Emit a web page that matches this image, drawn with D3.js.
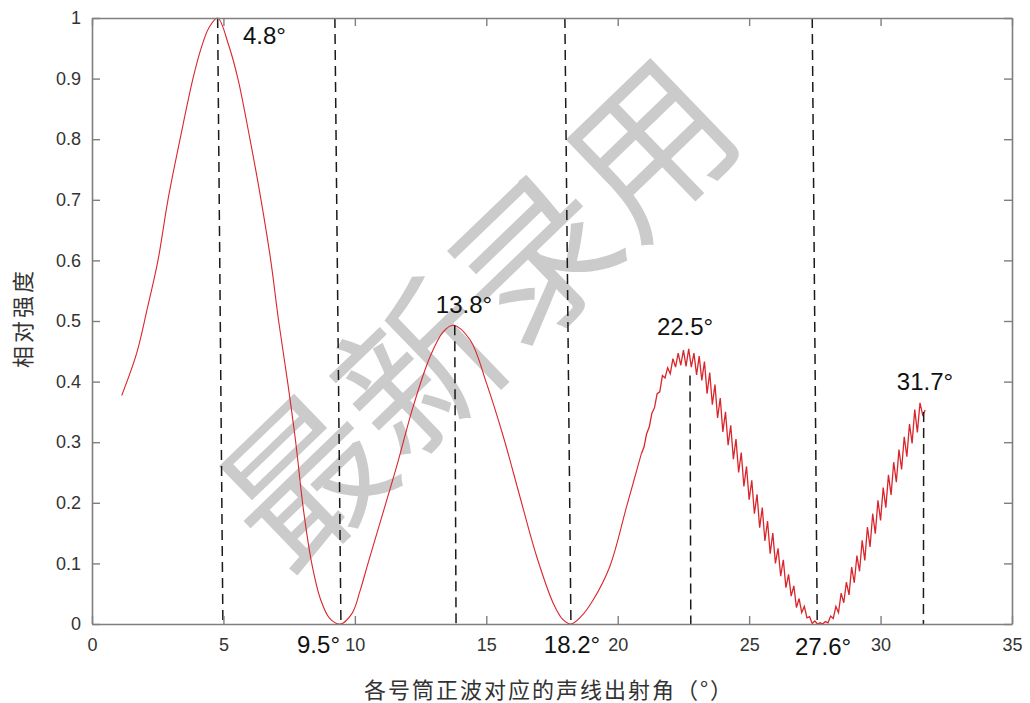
<!DOCTYPE html>
<html><head><meta charset="utf-8">
<script src="https://cdn.jsdelivr.net/npm/d3@7"></script>
<style>body{margin:0;background:#fff;} svg{display:block;}</style>
</head><body><svg id="c" width="1030" height="703"></svg>
<script>
// ---- data ----
const angleTicks = [0, 5, 10, 15, 20, 25, 30, 35];
const intensityTicks = [0, 0.1, 0.2, 0.3, 0.4, 0.5, 0.6, 0.7, 0.8, 0.9, 1];

const smoothAngle = [1.13, 1.70, 2.10, 2.51, 2.89, 3.35, 3.84, 4.15, 4.45, 4.78,
  5.20, 5.55, 6.01, 6.43, 6.80, 7.10, 7.44, 7.75, 8.04, 8.36, 8.70, 9.05, 9.45,
  9.90, 10.20, 10.50, 10.95, 11.59, 12.22, 12.86, 13.36, 13.74, 14.38, 15.01, 15.65, 16.28, 16.92, 17.55, 17.90, 18.22,
  18.60, 19.07, 19.70, 20.34, 20.90];
const smoothIntensity = [0.377, 0.447, 0.520, 0.600, 0.700, 0.800, 0.900, 0.950, 0.984, 1.000,
  0.955, 0.900, 0.800, 0.700, 0.600, 0.500, 0.400, 0.300, 0.190, 0.100, 0.040, 0.009, 0.000,
  0.018, 0.055, 0.100, 0.166, 0.260, 0.359, 0.441, 0.482, 0.493, 0.469, 0.397, 0.309, 0.210, 0.111, 0.034, 0.008, 0.000,
  0.012, 0.040, 0.095, 0.194, 0.281];

const rippleAngle = [20.9, 21.0, 21.1, 21.2, 21.3, 21.4, 21.5, 21.6, 21.7, 21.8,
  21.9, 22.0, 22.1, 22.2, 22.3, 22.4, 22.5, 22.6, 22.7, 22.8,
  22.9, 23.0, 23.1, 23.2, 23.3, 23.4, 23.5, 23.6, 23.7, 23.8,
  23.9, 24.0, 24.1, 24.2, 24.3, 24.4, 24.5, 24.6, 24.7, 24.8,
  24.9, 25.0, 25.1, 25.2, 25.3, 25.4, 25.5, 25.6, 25.7, 25.8,
  25.9, 26.0, 26.1, 26.2, 26.3, 26.4, 26.5, 26.6, 26.7, 26.8,
  26.9, 27.0, 27.1, 27.2, 27.3, 27.4, 27.5, 27.6, 27.7, 27.8,
  27.9, 28.0, 28.1, 28.2, 28.3, 28.4, 28.5, 28.6, 28.7, 28.8,
  28.9, 29.0, 29.1, 29.2, 29.3, 29.4, 29.5, 29.6, 29.7, 29.8,
  29.9, 30.0, 30.1, 30.2, 30.3, 30.4, 30.5, 30.6, 30.7, 30.8,
  30.9, 31.0, 31.1, 31.2, 31.3, 31.4, 31.5, 31.6, 31.7];
const rippleIntensity = [0.281, 0.292, 0.314, 0.325, 0.348, 0.357, 0.380, 0.383, 0.410, 0.406,
  0.423, 0.413, 0.438, 0.424, 0.447, 0.427, 0.452, 0.425, 0.454, 0.424,
  0.447, 0.411, 0.442, 0.402, 0.433, 0.380, 0.415, 0.362, 0.395, 0.340,
  0.373, 0.317, 0.350, 0.295, 0.328, 0.272, 0.305, 0.250, 0.283, 0.227,
  0.260, 0.205, 0.237, 0.182, 0.214, 0.159, 0.192, 0.137, 0.170, 0.116,
  0.150, 0.100, 0.125, 0.079, 0.106, 0.060, 0.082, 0.046, 0.063, 0.027,
  0.042, 0.019, 0.029, 0.010, 0.012, 0.001, 0.005, 0.000, 0.002, 0.000,
  0.004, 0.002, 0.013, 0.009, 0.029, 0.019, 0.051, 0.035, 0.069, 0.048,
  0.094, 0.068, 0.113, 0.087, 0.138, 0.105, 0.160, 0.127, 0.182, 0.149,
  0.204, 0.171, 0.225, 0.192, 0.246, 0.213, 0.267, 0.234, 0.288, 0.255,
  0.309, 0.276, 0.330, 0.298, 0.354, 0.316, 0.365, 0.345, 0.353];

const peakLabels = ["4.8°", "9.5°", "13.8°", "18.2°", "22.5°", "27.6°", "31.7°"];
const guideTopAngle = [4.78, 9.24, 13.80, 17.99, 22.75, 27.40, 31.64];
const guideTopIntensity = [1.0, 1.0, 0.493, 1.0, 0.41, 1.0, 0.35];
const guideBottomAngle = [4.98, 9.47, 13.85, 18.22, 22.78, 27.59, 31.63];
const labelAngle = [5.74, 7.80, 13.08, 17.19, 21.49, 26.74, 30.62];
const labelIntensity = [0.957, -0.048, 0.513, -0.048, 0.477, -0.051, 0.386];

const xTitle = "各号筒正波对应的声线出射角（°）";
const yTitle = "相对强度";
const watermark = "最新录用";

// ---- drawing ----
const svg = d3.select("#c");
const L = 92, R = 1012, T = 18, B = 624;
const x = d3.scaleLinear().domain([0, 35]).range([L, R]);
const y = d3.scaleLinear().domain([0, 1]).range([B, T]);

svg.append("rect").attr("width", 1030).attr("height", 703).attr("fill", "#fff");

// watermark
svg.append("text")
  .attr("transform", "translate(470,306) rotate(-44)")
  .attr("text-anchor", "middle")
  .attr("dominant-baseline", "central")
  .attr("font-family", "'Noto Sans CJK SC'")
  .attr("font-weight", 400)
  .attr("font-size", 160)
  .attr("fill", "#cbcbcb")
  .text(watermark);

const red = "#d9262c";
const smooth = smoothAngle.map((a, i) => [a, smoothIntensity[i]]);
const ripple = rippleAngle.map((a, i) => [a, rippleIntensity[i]]);

svg.append("path").datum(smooth)
  .attr("fill", "none").attr("stroke", red).attr("stroke-width", 1.1)
  .attr("d", d3.line().x(d => x(d[0])).y(d => y(Math.max(0, d[1]))).curve(d3.curveCatmullRom.alpha(0.5)));
svg.append("path").datum(ripple)
  .attr("fill", "none").attr("stroke", red).attr("stroke-width", 1.3)
  .attr("stroke-linejoin", "miter")
  .attr("d", d3.line().x(d => x(d[0])).y(d => y(d[1])));

// dashed guides
svg.append("g").selectAll("line").data(peakLabels).join("line")
  .attr("x1", (d, i) => x(guideTopAngle[i]))
  .attr("y1", (d, i) => y(guideTopIntensity[i]))
  .attr("x2", (d, i) => x(guideBottomAngle[i]))
  .attr("y2", y(0))
  .attr("stroke", "#1a1a1a").attr("stroke-width", 1.5)
  .attr("stroke-dasharray", "10,6");

// axes (box with inward ticks)
const axColor = "#7f7f7f";
function style(g, labels) {
  g.select(".domain").attr("stroke", axColor).attr("stroke-width", 1.6);
  g.selectAll(".tick line").attr("stroke", axColor).attr("stroke-width", 1.4);
  g.selectAll(".tick text").attr("fill", "#333").attr("font-size", 18)
    .attr("font-family", "'Liberation Sans', Arial, sans-serif");
  if (!labels) g.selectAll(".tick text").remove();
}
const fmt = d => d3.format("")(d);
svg.append("g").attr("transform", `translate(0,${B})`)
  .call(d3.axisBottom(x).tickValues(angleTicks).tickSize(-8).tickSizeOuter(0).tickPadding(14).tickFormat(fmt))
  .call(g => style(g, true));
svg.append("g").attr("transform", `translate(0,${T})`)
  .call(d3.axisTop(x).tickValues(angleTicks).tickSize(-8).tickSizeOuter(0))
  .call(g => style(g, false));
svg.append("g").attr("transform", `translate(${L},0)`)
  .call(d3.axisLeft(y).tickValues(intensityTicks).tickSize(-8).tickSizeOuter(0).tickPadding(11).tickFormat(fmt))
  .call(g => style(g, true));
svg.append("g").attr("transform", `translate(${R},0)`)
  .call(d3.axisRight(y).tickValues(intensityTicks).tickSize(-8).tickSizeOuter(0))
  .call(g => style(g, false));

// peak / null labels
svg.append("g").selectAll("text").data(peakLabels).join("text")
  .attr("x", (d, i) => x(labelAngle[i]))
  .attr("y", (d, i) => y(labelIntensity[i]))
  .attr("font-family", "'Liberation Sans', Arial, sans-serif")
  .attr("font-size", 24).attr("fill", "#111")
  .text(d => d);

// titles
svg.append("text")
  .attr("x", 549).attr("y", 698)
  .attr("text-anchor", "middle")
  .attr("font-family", "'Noto Sans CJK SC'")
  .attr("font-size", 22).attr("letter-spacing", 2).attr("fill", "#333")
  .text(xTitle);
svg.append("text")
  .attr("transform", "translate(31,318) rotate(-90)")
  .attr("text-anchor", "middle")
  .attr("font-family", "'Noto Sans CJK SC'")
  .attr("font-size", 22).attr("letter-spacing", 3).attr("fill", "#333")
  .text(yTitle);
</script>
</body></html>
